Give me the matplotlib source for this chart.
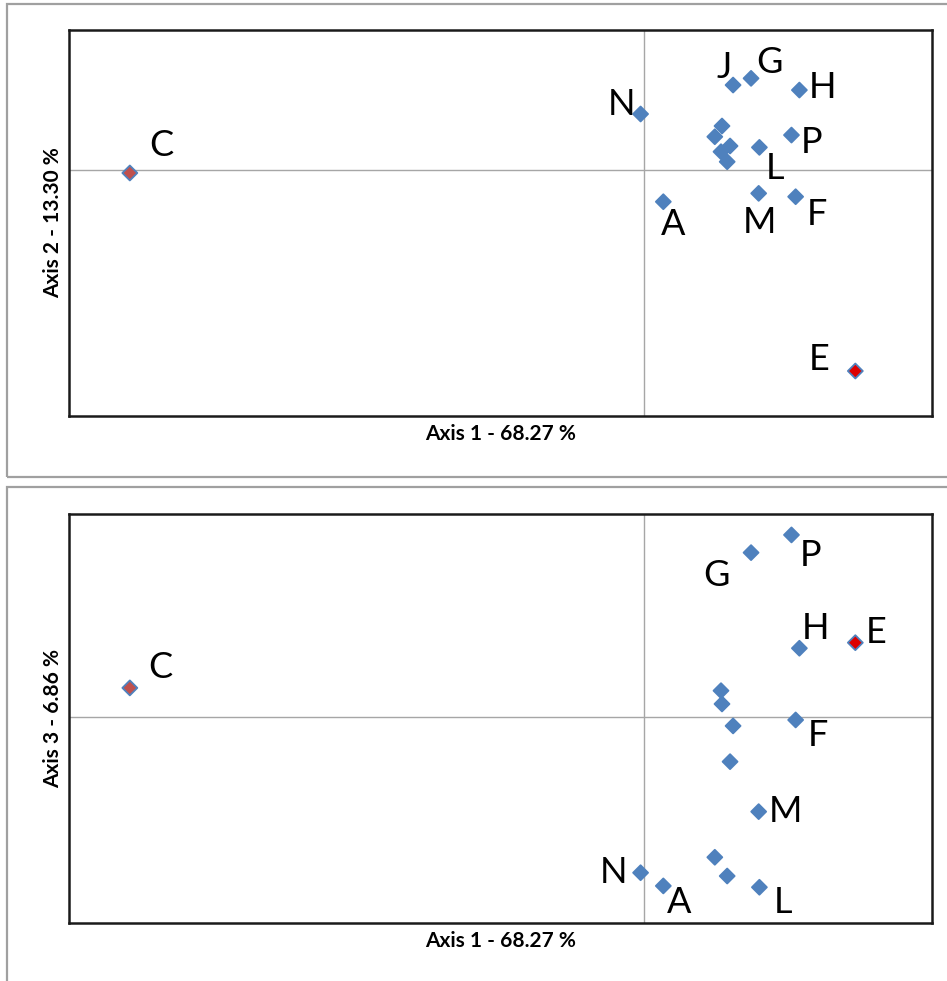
import matplotlib.pyplot as plt
from matplotlib.patches import Rectangle

plt.rcParams["font.family"] = ["Lato", "DejaVu Sans"]

# Sample scores (blank label = unlabeled sample)
labels = ["A", "C", "E", "F", "G", "H", "J", "L", "M", "N", "P", "", "", "", "", ""]
axis1 = [0.0132, -0.3577, 0.1467, 0.1052, 0.0742, 0.1078, 0.0617, 0.0800, 0.0795, -0.0026, 0.1023,
         0.0540, 0.0490, 0.0596, 0.0533, 0.0576]
axis2 = [-0.0324, -0.0032, -0.2043, -0.0273, 0.0929, 0.0810, 0.0861, 0.0228, -0.0239, 0.0567, 0.0353,
         0.0445, 0.0336, 0.0242, 0.0184, 0.0082]
axis3 = [-0.1640, 0.0282, 0.0721, -0.0029, 0.1595, 0.0667, -0.0087, -0.1653, -0.0919, -0.1512, 0.1767,
         0.0126, -0.1362, -0.0434, 0.0255, -0.1544]

BLUE = "#4f81bd"
fills = {"C": "#c0504d", "E": "#dd0000"}

# label offsets in pixels (text centre relative to marker)
off_top = {"A": (10, -20), "C": (32, 30), "E": (-36, 14), "F": (21, -15), "G": (18, 18),
           "H": (23, 5), "J": (-9, 20), "L": (16, -19), "M": (1, -27), "N": (-19, 12), "P": (20, -5)}
off_bot = {"A": (16, -14), "C": (31, 23), "E": (21, 13), "F": (22, -13), "G": (-35, -20),
           "H": (16, 22), "L": (24, -13), "M": (27, 3), "N": (-27, 3), "P": (19, -18)}

W, H = 947, 981
fig = plt.figure(figsize=(W / 100, H / 100), dpi=100)

# outer gray frames of the two chart objects
for y0, y1 in [(4, 477), (487, 1000)]:
    fig.patches.append(Rectangle((7 / W, 1 - y1 / H), (960 - 7) / W, (y1 - y0) / H,
                                 transform=fig.transFigure, fill=False,
                                 edgecolor="#a0a0a0", linewidth=1.6, clip_on=False))


def panel(rect, yvals, ylim, ylabel, offsets):
    ax = fig.add_axes(rect)
    ax.set_xlim(-0.4, 0.2)
    ax.set_ylim(*ylim)
    ax.axhline(0, color="#a6a6a6", lw=1, zorder=1)
    ax.axvline(0, color="#a6a6a6", lw=1, zorder=1)
    face = [fills.get(l, BLUE) for l in labels]
    ax.scatter(axis1, yvals, marker="D", s=58, c=face, edgecolors=BLUE, linewidths=1.3, zorder=3)
    for lab, x, y in zip(labels, axis1, yvals):
        if lab in offsets:
            dx, dy = offsets[lab]
            ax.annotate(lab, (x, y), xytext=(dx, dy - 13), textcoords="offset pixels",
                        ha="center", va="baseline", fontsize=26, color="black")
    ax.set_xticks([])
    ax.set_yticks([])
    for s in ax.spines.values():
        s.set_linewidth(1.8)
        s.set_color("#1a1a1a")
    ax.set_xlabel("Axis 1 - 68.27 %", fontsize=15, fontweight="bold", labelpad=6)
    ax.set_ylabel(ylabel, fontsize=15, fontweight="bold", labelpad=4)
    return ax


panel([69 / W, 1 - 416 / H, 863 / W, 386 / H], axis2, (-0.25, 0.142), "Axis 2 - 13.30 %", off_top)
panel([69 / W, 1 - 923 / H, 863 / W, 409 / H], axis3, (-0.2, 0.197), "Axis 3 - 6.86 %", off_bot)

fig.savefig("out.png", dpi=100, facecolor="white")
